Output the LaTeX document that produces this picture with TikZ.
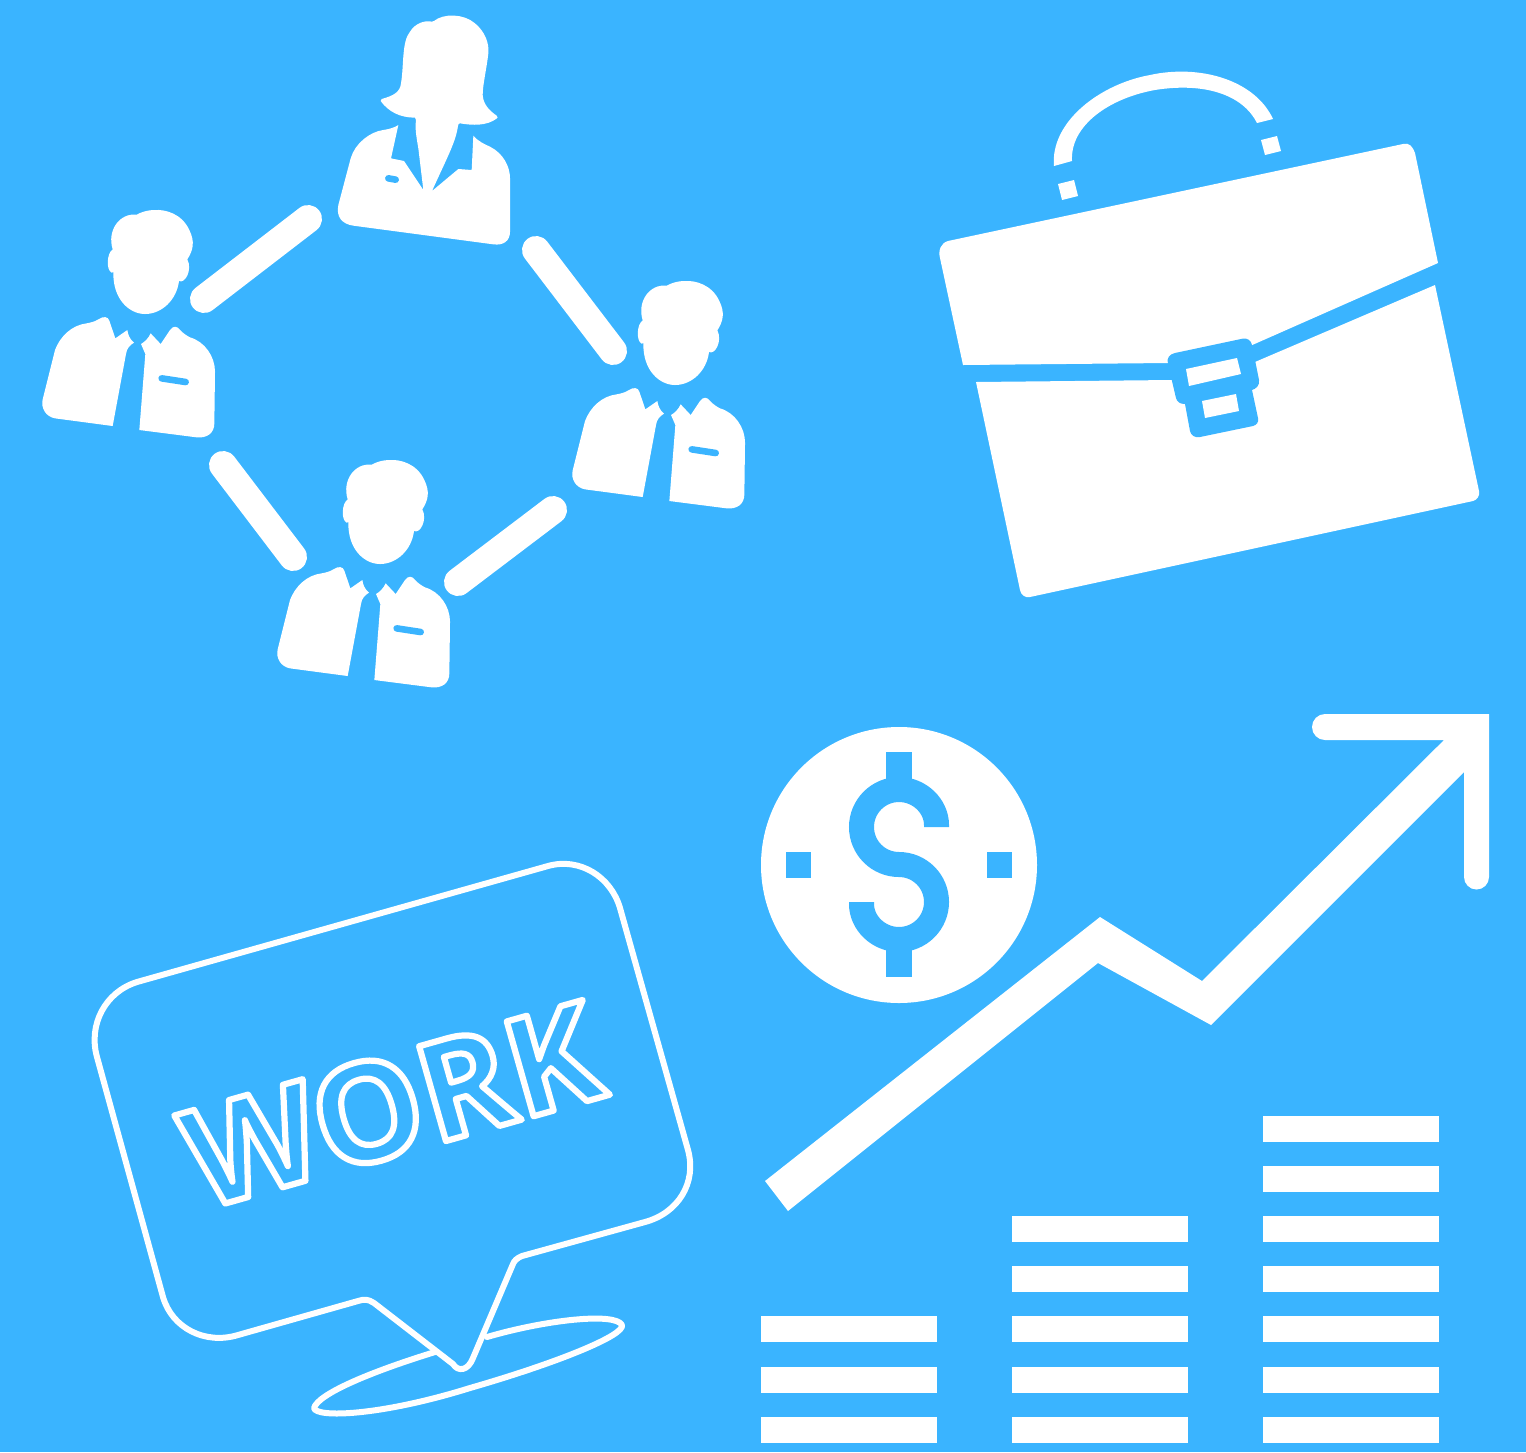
\documentclass[tikz,border=0pt]{standalone}
\usepackage{fontspec}
\newfontfamily\workfont{Open Sans}
\definecolor{skyb}{HTML}{3AB4FF}
\tikzset{
  wf/.style={fill=white,draw=none},
  bf/.style={fill=skyb,draw=none},
  linkbar/.style={draw=white,line width=14pt,line cap=round},
  bubbleline/.style={draw=white,line width=3pt,line join=round,line cap=round},
  zoomunits/.style={x=0.166667pt,y=-0.166667pt},
  stepbar/.style={fill=white,draw=none,minimum width=88pt,minimum height=13pt,inner sep=0pt,outer sep=0pt,anchor=north west},
}
\newcommand{\manfig}[2]{%
\begin{scope}[zoomunits,shift={(#1,#2)}]
 \fill[wf] (248,148) .. controls (230,160) and (228,210) .. (245,218) -- (250,216)
   .. controls (248,300) and (300,342) .. (345,342) .. controls (395,342) and (440,300) .. (447,243)
   .. controls (465,252) and (488,210) .. (472,178) .. controls (490,150) and (495,125) .. (478,90)
   .. controls (455,40) and (405,28) .. (375,30) .. controls (350,30) and (330,38) .. (320,44)
   .. controls (270,38) and (230,90) .. (248,148) -- cycle;
 \fill[wf] (75,450) -- (38,598) .. controls (32,625) and (48,650) .. (75,655) -- (248,678) -- (288,462)
   .. controls (290,445) and (300,435) .. (312,428) .. controls (300,418) and (294,405) .. (292,390)
   -- (256,415) -- (238,362) .. controls (234,350) and (222,347) .. (205,358)
   .. controls (195,365) and (180,368) .. (170,370) .. controls (125,375) and (90,410) .. (75,450) -- cycle;
 \fill[wf] (328,690) -- (346,462) -- (333,432) .. controls (345,425) and (355,415) .. (362,400) -- (392,432)
   -- (420,390) .. controls (430,376) and (442,378) .. (450,390) .. controls (460,400) and (470,407) .. (480,412)
   .. controls (525,425) and (555,470) .. (555,515) -- (553,670) .. controls (553,700) and (530,715) .. (500,712) -- cycle;
 \draw[skyb,line width=3.3pt,line cap=round] (395,535) -- (467,546);
\end{scope}}
\begin{document}
\begin{tikzpicture}[x=0.5pt,y=-0.5pt]
\useasboundingbox (0,0) rectangle (1526,1452);
\fill[skyb] (0,0) rectangle (1526,1452);
% people
\manfig{90}{600}
\manfig{1680}{813}
\manfig{795}{1350}
\begin{scope}[zoomunits,shift={(990,15)}]
 \fill[wf] (312,48) .. controls (340,25) and (400,25) .. (435,55) .. controls (465,80) and (478,115) .. (475,145)
   .. controls (470,190) and (458,240) .. (458,270) .. controls (460,300) and (480,318) .. (500,332)
   .. controls (505,336) and (503,340) .. (498,342) .. controls (470,362) and (430,362) .. (390,355)
   .. controls (386,355) and (385,358) .. (384,362) .. controls (378,410) and (350,460) .. (306,558)
   -- (385,492) -- (425,495) -- (430,392) .. controls (445,410) and (465,418) .. (480,425)
   .. controls (520,445) and (540,485) .. (540,520) -- (540,680) .. controls (540,708) and (520,722) .. (490,718)
   -- (70,662) .. controls (35,657) and (18,635) .. (25,600) -- (62,460) .. controls (75,415) and (120,380) .. (160,375)
   .. controls (180,372) and (195,367) .. (205,360) -- (183,460) -- (222,468) -- (280,555)
   -- (265,430) .. controls (258,390) and (255,370) .. (258,345) -- (255,338)
   .. controls (210,338) and (175,320) .. (152,288) -- (155,282) .. controls (190,272) and (210,262) .. (213,235)
   .. controls (222,180) and (215,110) .. (240,80) .. controls (255,55) and (285,45) .. (305,50) -- cycle;
 \draw[skyb,line width=3.3pt,line cap=round] (175,520) -- (197,524);
\end{scope}
% links between people
\draw[linkbar] (204,299) -- (308,219);
\draw[linkbar] (536,250) -- (613,351);
\draw[linkbar] (223,465) -- (293,557);
\draw[linkbar] (458,582) -- (553,510);
% briefcase
\fill[wf] (1054,166) .. controls (1050,122) and (1100,84) .. (1150,75) .. controls (1200,64) and (1255,80) .. (1273,119)
   -- (1257,123) .. controls (1243,95) and (1205,82) .. (1155,90) .. controls (1110,98) and (1070,125) .. (1072,161) -- cycle;
\fill[wf] (1058,184) -- (1074,180) -- (1078,196) -- (1062,200) -- cycle;
\fill[wf] (1261,140) -- (1277,136) -- (1281,151) -- (1265,155) -- cycle;
\fill[wf] (948,241) -- (1403,144) .. controls (1409,142) and (1413,147) .. (1415,153) -- (1438,263) -- (1250,346) -- (1170,356)
   -- (1168,363) -- (963,365) -- (940,258) .. controls (938,250) and (941,243) .. (948,241) -- cycle;
\fill[wf] (976,382) -- (1172,380) -- (1200,400) -- (1255,362) -- (1435,285) -- (1479,491)
   .. controls (1480,496) and (1477,500) .. (1473,501) -- (1030,597) .. controls (1025,598) and (1021,595) .. (1020,590) -- cycle;
\fill[bf] (1175,353) -- (1241,339) .. controls (1248,337) and (1251,341) .. (1252,345) -- (1259,380)
   .. controls (1260,385) and (1256,389) .. (1252,390) -- (1258,418) .. controls (1259,423) and (1256,425) .. (1253,426)
   -- (1200,437) .. controls (1194,438) and (1191,435) .. (1190,431) -- (1185,404) .. controls (1180,404) and (1177,402) .. (1176,398)
   -- (1168,364) .. controls (1166,358) and (1170,354) .. (1175,353) -- cycle;
\fill[wf] (1186,369) -- (1237,358) -- (1241,374) -- (1189,386) -- cycle;
\fill[wf] (1202,401) -- (1236,394) -- (1239,411) -- (1205,418) -- cycle;
% coin
\fill[wf] (899,865) circle [radius=138];
\fill[bf] (886,752) rectangle (912,790);
\fill[bf] (886,940) rectangle (912,977);
\fill[bf] (786,852) rectangle (811,878);
\fill[bf] (987,852) rectangle (1012,878);
\draw[skyb,line width=12.5pt] (936.5,827) -- (936.5,825) .. controls (936.5,806.3) and (919.7,789.5) .. (899,789.5)
   .. controls (878.3,789.5) and (861.5,806.3) .. (861.5,827) .. controls (861.5,847.7) and (878.3,864.5) .. (899,864.5)
   .. controls (919.7,864.5) and (936.5,881.3) .. (936.5,902) .. controls (936.5,922.7) and (919.7,939.5) .. (899,939.5)
   .. controls (878.3,939.5) and (861.5,922.7) .. (861.5,904) -- (861.5,902);
% rising arrow
\fill[wf] (765,1181) -- (1100,917) -- (1202,981) -- (1444,740) -- (1325,740) arc [start angle=90,end angle=270,radius=13]
   -- (1489,714) -- (1489,877) arc [start angle=0,end angle=180,radius=12.5] -- (1464,772) -- (1211,1025) -- (1098,963) -- (788,1211) -- cycle;
% bars
\foreach \yy in {1316,1367,1417} \node[stepbar] at (761,\yy) {};
\foreach \yy in {1216,1266,1316,1367,1417} \node[stepbar] at (1012,\yy) {};
\foreach \yy in {1116,1166,1216,1266,1316,1367,1417} \node[stepbar] at (1263,\yy) {};
% speech bubble
\draw[bubbleline] (137,982) -- (548,866) .. controls (580,857) and (611,877) .. (620,908) -- (688,1150)
   .. controls (697,1183) and (678,1213) .. (645,1222) -- (522,1256) .. controls (517,1258) and (514,1261) .. (513,1264)
   -- (473,1358) .. controls (468,1371) and (458,1372) .. (453,1364) -- (374,1303) .. controls (368,1299) and (364,1299) .. (358,1301)
   -- (238,1335) .. controls (205,1345) and (172,1328) .. (163,1297) -- (97,1057) .. controls (88,1025) and (105,992) .. (137,982) -- cycle;
\draw[bubbleline] (435,1352) .. controls (370,1372) and (318,1394) .. (314,1408) .. controls (316,1418) and (380,1416) .. (470,1388)
   .. controls (560,1362) and (625,1335) .. (622,1325) .. controls (615,1312) and (545,1320) .. (487,1337);
% outlined word
\node[rotate=15.8,inner sep=0pt] (word) at (392,1105) {\workfont\bfseries\fontsize{69pt}{69pt}\selectfont\special{pdf:code q 1 Tr 3.1 w 1 J 1 j 1 1 1 RG}WORK\special{pdf:code Q}};
\end{tikzpicture}
\end{document}
